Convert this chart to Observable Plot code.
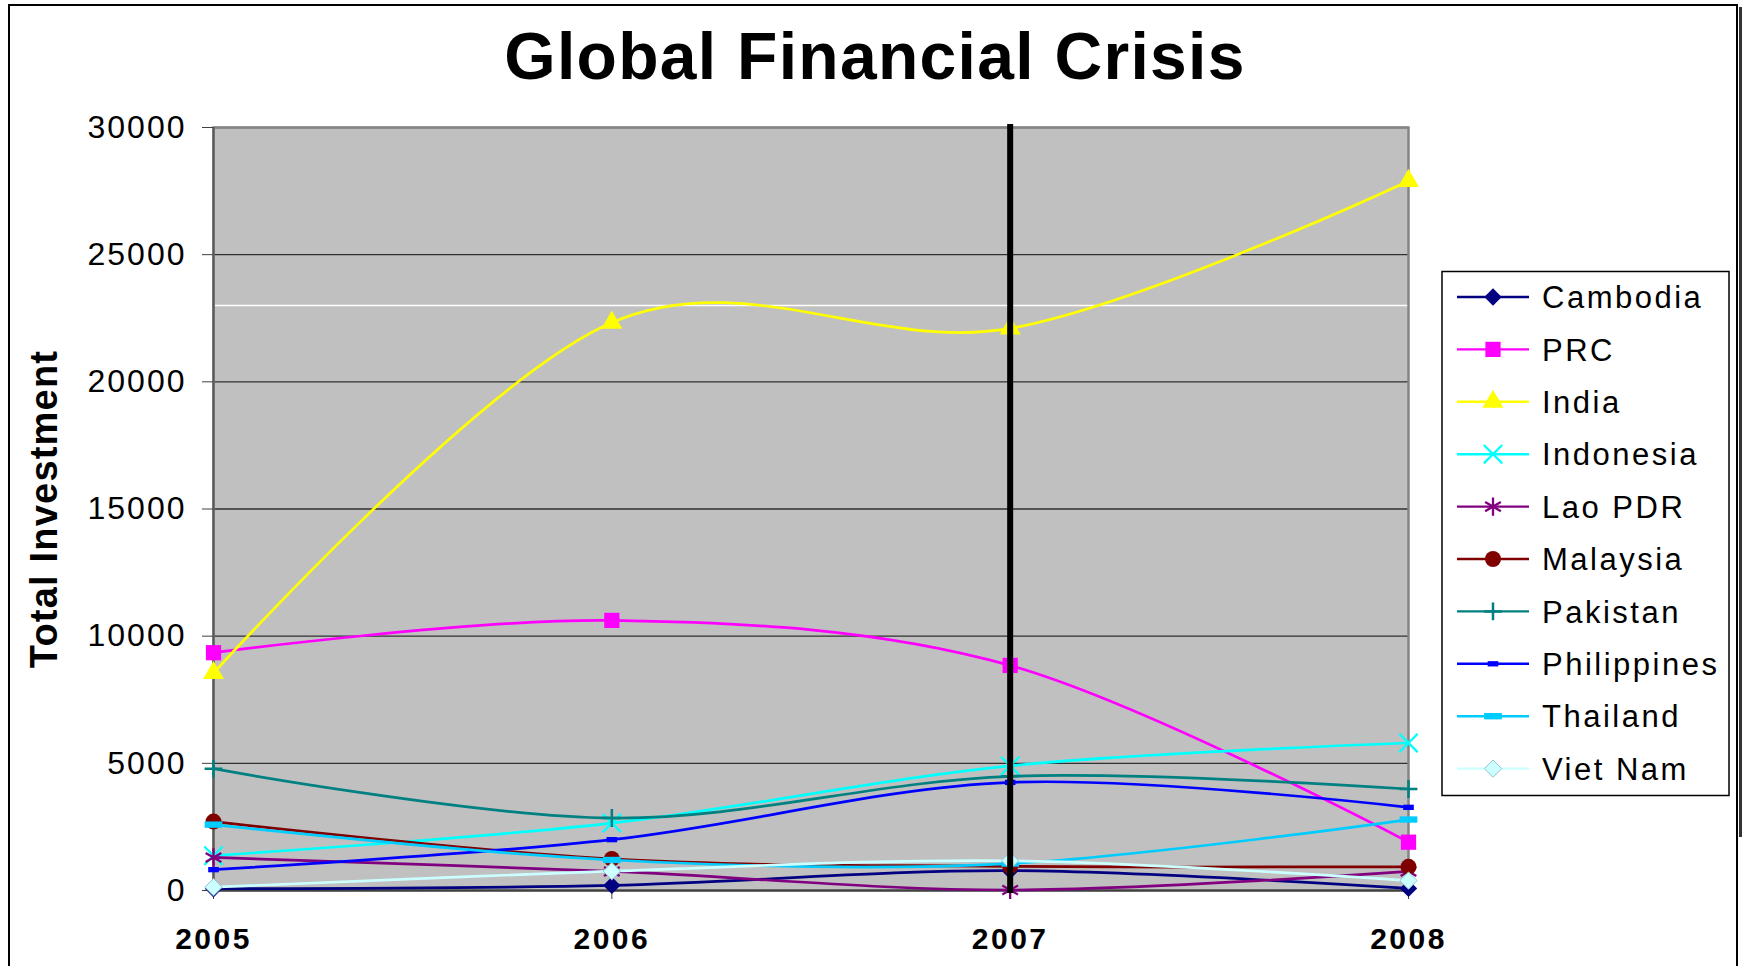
<!DOCTYPE html>
<html>
<head>
<meta charset="utf-8">
<script src="https://cdn.jsdelivr.net/npm/d3@7"></script>
<script src="https://cdn.jsdelivr.net/npm/@observablehq/plot@0.6"></script>
<style>
  html, body { margin: 0; padding: 0; background: #fff; overflow: hidden; }
  #wrap { position: relative; width: 1744px; height: 966px; overflow: hidden; background: #fff;
          font-family: "Liberation Sans", Arial, sans-serif; }
  #chart { position: absolute; left: 0; top: 0; }
  #title { position: absolute; left: 0; top: 23px; width: 1750px; text-align: center;
           font-size: 66px; line-height: 66px; font-weight: bold; letter-spacing: 1.3px; color: #000; }
  .bline { position: absolute; background: #000; }
  g[aria-label="y-axis tick label"] text { letter-spacing: 2px; }
  g[aria-label="x-axis tick label"] text { letter-spacing: 2.5px; font-weight: bold; }
  g[aria-label="text"] text { letter-spacing: 1.2px; }
</style>
</head>
<body>
<div id="wrap">
  <div id="chart"></div>
  <div id="title"></div>
  <div class="bline" style="left:9px; top:4px; width:1729px; height:2px;"></div>
  <div class="bline" style="left:8px; top:4px; width:2px; height:962px;"></div>
  <div class="bline" style="left:1736px; top:4px; width:2px; height:962px;"></div>
  <div class="bline" style="left:1739px; top:7px; width:3px; height:830px; background:#333;"></div>
</div>
<script>
// ---- data ----
const title = "Global Financial Crisis";
const yLabel = "Total Investment";
const years = [2005, 2006, 2007, 2008];
const yTicks = [0, 5000, 10000, 15000, 20000, 25000, 30000];
const countries = ["Cambodia", "PRC", "India", "Indonesia", "Lao PDR", "Malaysia", "Pakistan", "Philippines", "Thailand", "Viet Nam"];
const cambodia    = [70, 200, 780, 80];
const prc         = [9350, 10620, 8850, 1900];
const india       = [8550, 22330, 22100, 27900];
const indonesia   = [1370, 2650, 4900, 5800];
const laoPDR      = [1300, 750, 20, 750];
const malaysia    = [2710, 1240, 950, 930];
const pakistan    = [4790, 2850, 4490, 3990];
const philippines = [820, 2000, 4250, 3270];
const thailand    = [2590, 1200, 1060, 2790];
const vietNam     = [130, 760, 1170, 390];
const crisisYear = [2007];
const whiteLine = [23000];

const seriesValues = [cambodia, prc, india, indonesia, laoPDR, malaysia, pakistan, philippines, thailand, vietNam];
const colors = ["#000080", "#FF00FF", "#FFFF00", "#00FFFF", "#800080", "#800000", "#008080", "#0000FF", "#00CCFF", "#CCFFFF"];

// ---- marker styles ----
const dashSmall = { draw(ctx, size) { const s = Math.sqrt(size); ctx.rect(-s / 2, -s / 4, s, s / 2); } };
const dashLarge = { draw(ctx, size) { const s = Math.sqrt(size); ctx.rect(-s / 2, -s * 0.18, s, s * 0.36); } };
const symTimes = d3.symbolTimes || d3.symbolX;
const markerStyles = [
  { symbol: d3.symbolDiamond2, r: 7.8, fill: true },
  { symbol: d3.symbolSquare, r: 8.6, fill: true },
  { symbol: d3.symbolTriangle, r: 7.8, fill: true },
  { symbol: symTimes, r: 8.4, fill: false, sw: 2.3 },
  { symbol: d3.symbolAsterisk, r: 8.6, fill: false, sw: 2.3 },
  { symbol: d3.symbolCircle, r: 8.0, fill: true },
  { symbol: d3.symbolPlus, r: 5.8, fill: false, sw: 2.5 },
  { symbol: dashSmall, r: 6.0, fill: true },
  { symbol: dashLarge, r: 10.0, fill: true },
  { symbol: d3.symbolDiamond2, r: 7.8, fill: true, outline: "#8fc4d0" }
];

const rows = countries.flatMap((c, i) => years.map((yr, j) => ({ country: c, year: yr, value: seriesValues[i][j] })));

document.getElementById("title").textContent = title;

const FONT = "Liberation Sans, Arial, sans-serif";

const marks = [
  Plot.frame({ fill: "#C0C0C0" }),
  Plot.ruleY(yTicks, { stroke: "#303030", strokeWidth: 1.4 }),
  Plot.ruleY(whiteLine, { stroke: "#ffffff", strokeWidth: 1.5 }),
  Plot.frame({ stroke: "#858585", strokeWidth: 2.5 }),
  Plot.ruleX([years[0]], { stroke: "#5a5a5a", strokeWidth: 2.2 }),
  Plot.ruleY([0], { stroke: "#404040", strokeWidth: 2.2 }),
  Plot.axisY({ ticks: yTicks, tickFormat: d => String(d), tickSize: 11, tickPadding: 16, fontSize: 32,
               fontFamily: FONT, label: null, stroke: "#404040", fill: "#000" }),
  Plot.axisX({ ticks: years, tickFormat: d => String(d), tickSize: 9, tickPadding: 28, fontSize: 30,
               fontWeight: "bold", fontFamily: FONT, label: null, stroke: "#404040", fill: "#000" })
];

countries.forEach((c, i) => {
  const data = rows.filter(d => d.country === c);
  const st = markerStyles[i];
  marks.push(Plot.line(data, { x: "year", y: "value", stroke: colors[i], strokeWidth: 2.7, curve: "cardinal" }));
  marks.push(Plot.dot(data, {
    x: "year", y: "value", symbol: st.symbol, r: st.r,
    fill: st.fill ? colors[i] : "none",
    stroke: st.fill ? (st.outline || "none") : colors[i],
    strokeWidth: st.fill ? 1 : st.sw
  }));
});

marks.push(Plot.ruleX(crisisYear, { stroke: "#000", strokeWidth: 6, insetTop: -3, insetBottom: -3 }));
marks.push(Plot.text([yLabel], { text: d => d, frameAnchor: "left", textAnchor: "middle", lineAnchor: "middle",
  rotate: -90, dx: -169, fontSize: 38, fontWeight: "bold", fontFamily: FONT, fill: "#000" }));

const chart = Plot.plot({
  width: 1744,
  height: 966,
  marginLeft: 213,
  marginRight: 336,
  marginTop: 127,
  marginBottom: 76,
  style: { fontFamily: FONT, background: "transparent", overflow: "visible" },
  x: { domain: [2005, 2008], axis: null, label: null },
  y: { domain: [0, 30000], axis: null, label: null },
  marks
});
document.getElementById("chart").appendChild(chart);

// ---- legend ----
const leg = d3.create("svg")
  .attr("width", 292).attr("height", 528)
  .style("position", "absolute").style("left", "1440px").style("top", "270px");
leg.append("rect").attr("x", 2).attr("y", 1.5).attr("width", 287).attr("height", 524)
  .attr("fill", "#fff").attr("stroke", "#000").attr("stroke-width", 1.5);
countries.forEach((c, i) => {
  const st = markerStyles[i];
  const g = leg.append("g").attr("transform", `translate(0,${27 + i * 52.4})`);
  g.append("line").attr("x1", 17).attr("x2", 89).attr("y1", 0).attr("y2", 0)
    .attr("stroke", colors[i]).attr("stroke-width", 2.4);
  g.append("path").attr("transform", "translate(53,0)")
    .attr("d", d3.symbol(st.symbol, Math.PI * st.r * st.r)())
    .attr("fill", st.fill ? colors[i] : "none")
    .attr("stroke", st.fill ? (st.outline || "none") : colors[i])
    .attr("stroke-width", st.fill ? 1 : st.sw);
  g.append("text").attr("x", 102).attr("dy", "0.36em").text(c)
    .attr("font-family", FONT).attr("font-size", 31).attr("letter-spacing", "2.5px").attr("fill", "#000");
});
document.getElementById("wrap").appendChild(leg.node());
</script>
</body>
</html>
